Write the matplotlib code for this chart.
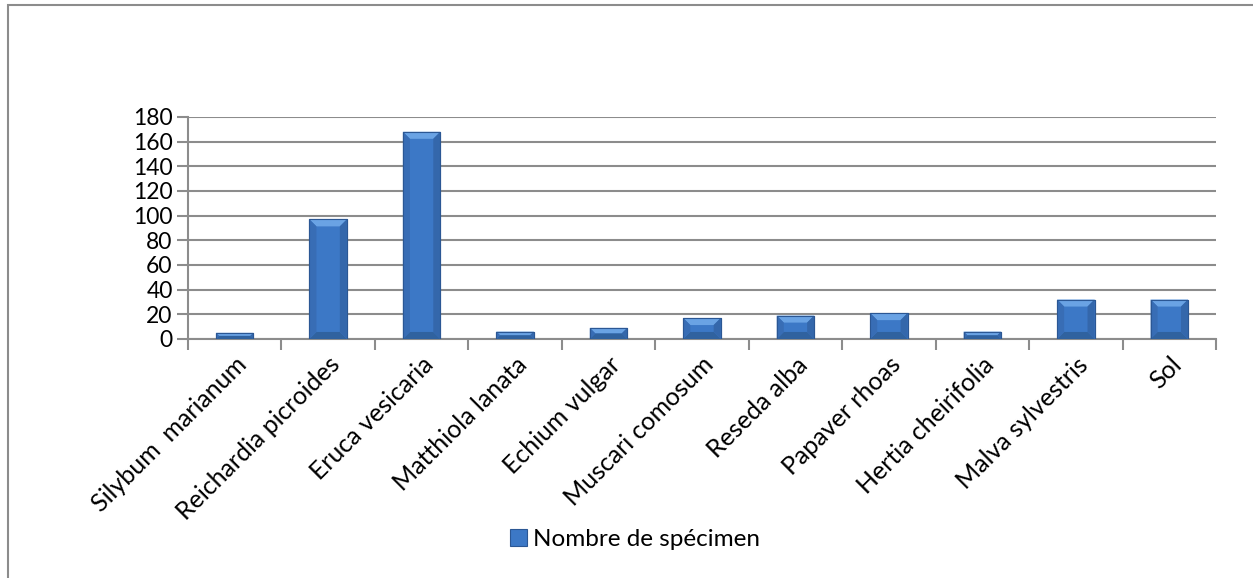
import matplotlib
matplotlib.use('Agg')
import matplotlib.pyplot as plt
from matplotlib.patches import Polygon, Rectangle

plt.rcParams['font.family'] = ['Lato', 'DejaVu Sans']

especes = ['Silybum  marianum', 'Reichardia picroides', 'Eruca vesicaria',
           'Matthiola lanata', 'Echium vulgar', 'Muscari comosum',
           'Reseda alba', 'Papaver rhoas', 'Hertia cheirifolia',
           'Malva sylvestris', 'Sol']
nombre = [5, 97, 168, 6, 9, 17, 19, 21, 6, 32, 32]
yticks = [0, 20, 40, 60, 80, 100, 120, 140, 160, 180]

gris = '#8c8c8c'
bleu = '#3c78c6'

fig = plt.figure(figsize=(12.53, 5.78), dpi=100)
ax = fig.add_axes([0.150, 0.4135, 0.8205, 0.3841])

x = list(range(len(especes)))
largeur = 0.40
barres = ax.bar(x, nombre, width=largeur, color=bleu, edgecolor='#2b5794',
                linewidth=0.8, zorder=3, label='Nombre de spécimen')

# biseau des barres (style Excel)
bx = 0.075
by = 5.7
for xi, h in zip(x, nombre):
    g = xi - largeur / 2
    d = xi + largeur / 2
    e = min(by, h / 2)
    ex = bx * e / by if h / 2 < by else bx
    ax.add_patch(Polygon([(g, h), (d, h), (d - ex, h - e), (g + ex, h - e)],
                         closed=True, fc='#6aa3e4', ec='none', zorder=4))
    ax.add_patch(Polygon([(g, 0), (d, 0), (d - ex, e), (g + ex, e)],
                         closed=True, fc='#30629f', ec='none', zorder=4))
    ax.add_patch(Polygon([(g, 0), (g + ex, e), (g + ex, h - e), (g, h)],
                         closed=True, fc='#386db5', ec='none', zorder=4))
    ax.add_patch(Polygon([(d, 0), (d - ex, e), (d - ex, h - e), (d, h)],
                         closed=True, fc='#3467ab', ec='none', zorder=4))
    ax.add_patch(Rectangle((g, 0), largeur, h, fc='none', ec='#2b5794',
                           lw=0.8, zorder=5))

ax.set_xlim(-0.5, len(especes) - 0.5)
ax.set_ylim(0, 180)
ax.set_yticks(yticks)
ax.set_yticklabels([str(v) for v in yticks], fontsize=16.5)
ax.yaxis.grid(True, color=gris, linewidth=1.5, zorder=0)
ax.set_axisbelow(True)

ax.set_xticks([i + 0.5 for i in range(-1, len(especes))], minor=False)
ax.set_xticklabels([])
ax.set_xticks(x, minor=True)
ax.set_xticklabels(especes, minor=True, rotation=45, ha='right',
                   rotation_mode='anchor', fontsize=18)
ax.tick_params(axis='x', which='major', length=8, width=1.5, color=gris,
               direction='out')
ax.tick_params(axis='x', which='minor', length=0, pad=10)
ax.tick_params(axis='y', length=8, width=1.5, color=gris, direction='out', pad=3)

for s in ['top', 'right']:
    ax.spines[s].set_visible(False)
for s in ['left', 'bottom']:
    ax.spines[s].set_color(gris)
    ax.spines[s].set_linewidth(1.5)

# cadre du graphique
fig.patches.append(Rectangle((8 / 1253, -0.2), 1.2, 1.2 - 5 / 578,
                             transform=fig.transFigure, fill=False,
                             ec=gris, lw=1.5))

fig.legend(handles=[barres], labels=['Nombre de spécimen'], loc='center',
           bbox_to_anchor=(0.507, 0.066), frameon=False, fontsize=17.5,
           handlelength=0.7, handleheight=0.7, handletextpad=0.25)

fig.savefig('out.png', dpi=100)
